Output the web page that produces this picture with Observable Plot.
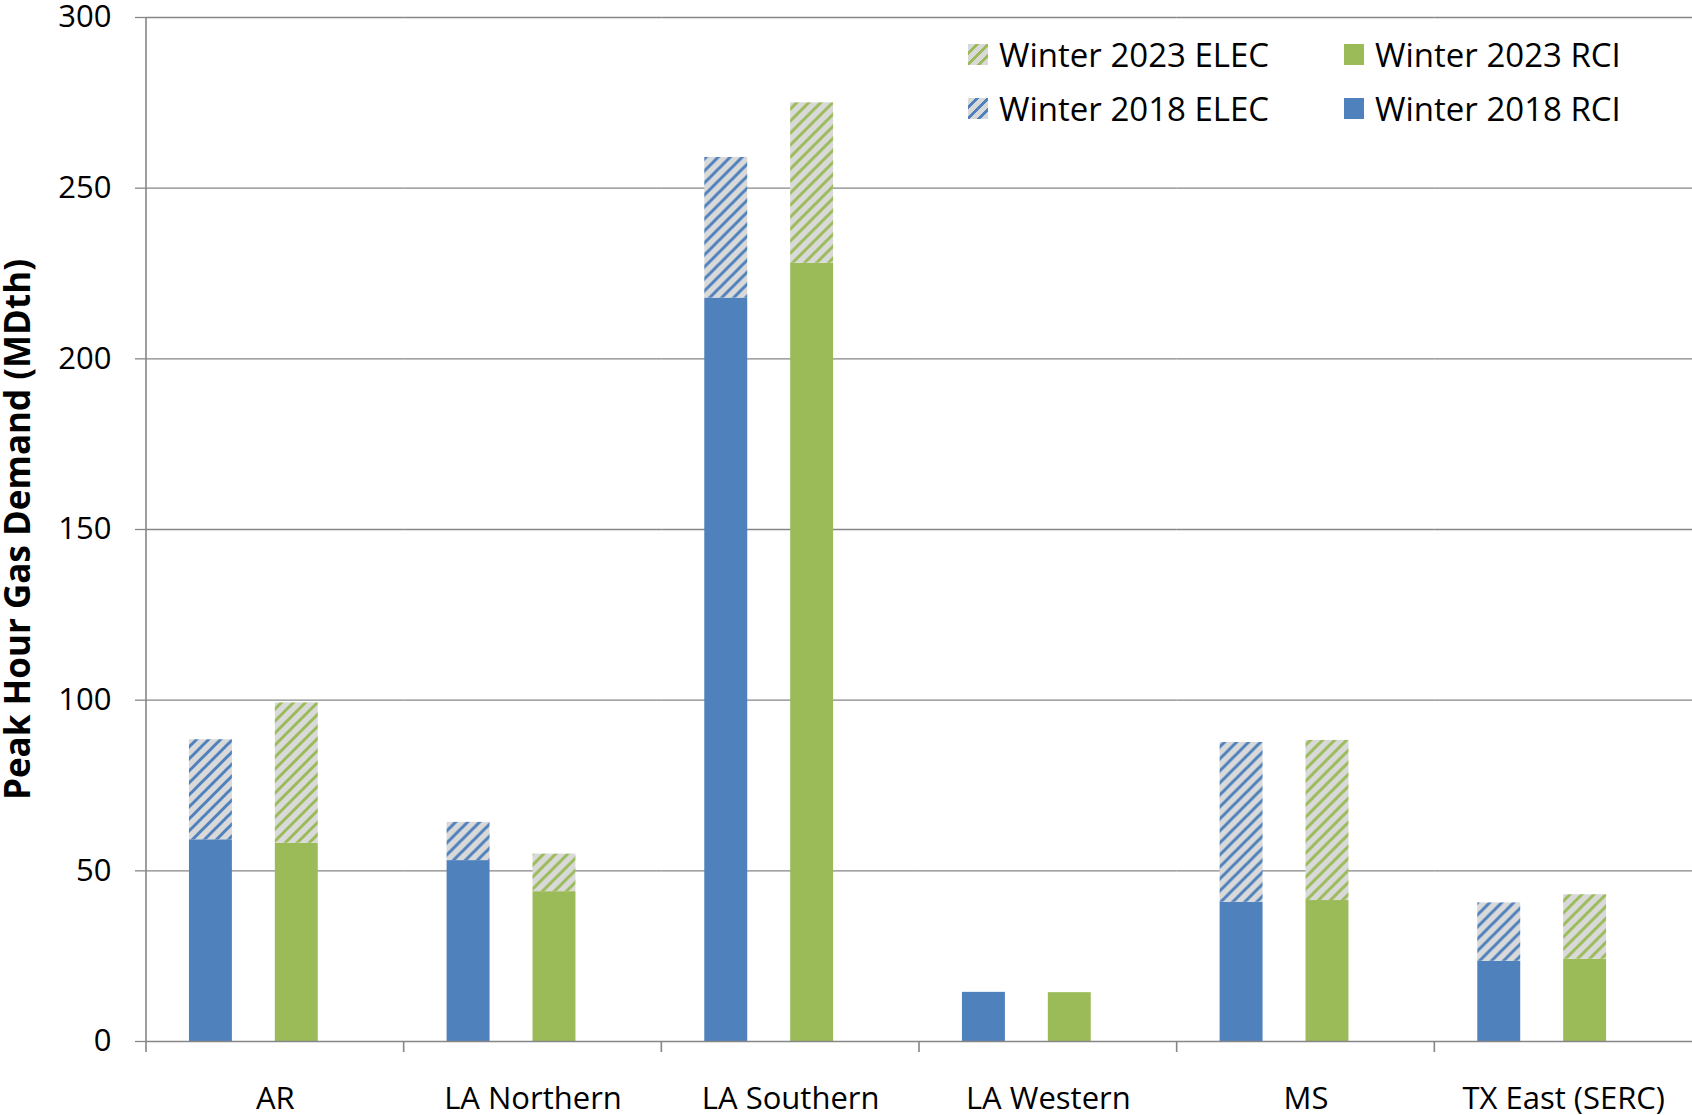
<!DOCTYPE html>
<html><head><meta charset="utf-8">
<script src="https://cdn.jsdelivr.net/npm/d3@7"></script>
<script src="https://cdn.jsdelivr.net/npm/@observablehq/plot@0.6"></script>
<style>
body{margin:0;background:#fff;}
#wrap{position:relative;width:1692px;height:1115px;overflow:hidden;font-family:"Open Sans";background:#fff;}
.leg{position:absolute;display:flex;align-items:center;font-size:33px;color:#000;white-space:nowrap;line-height:1;height:30px;}
.sw{width:20px;height:21px;margin-right:11px;flex:none;}
g[aria-label="y-axis label"] text{font-weight:bold;font-size:35px;}
</style></head><body><div id="wrap"></div>
<script>
const categories = ["AR","LA Northern","LA Southern","LA Western","MS","TX East (SERC)"];
const years = ["2018","2023"];
const rci2018  = [59.1, 53.0, 217.8, 14.4, 40.8, 23.5];
const elec2018 = [29.3, 11.2, 41.2, 0, 46.8, 17.1];
const rci2023  = [58.1, 43.9, 228.0, 14.3, 41.3, 24.1];
const elec2023 = [41.1, 11.0, 47.0, 0, 46.9, 18.9];
const seriesNames = ["Winter 2018 RCI","Winter 2018 ELEC","Winter 2023 RCI","Winter 2023 ELEC"];
const seriesColors = ["#4F81BD","url(#hatch2018)","#9BBB59","url(#hatch2023)"];
const yTicks = [0,50,100,150,200,250,300];
const yLabel = "Peak Hour Gas Demand (MDth)";

const rows = [];
categories.forEach((c,i)=>{
  rows.push({cat:c, year:years[0], series:seriesNames[0], value:rci2018[i]});
  rows.push({cat:c, year:years[0], series:seriesNames[1], value:elec2018[i]});
  rows.push({cat:c, year:years[1], series:seriesNames[2], value:rci2023[i]});
  rows.push({cat:c, year:years[1], series:seriesNames[3], value:elec2023[i]});
});

const plot = Plot.plot({
  width:1692, height:1115, marginLeft:146, marginRight:0, marginTop:17, marginBottom:74,
  style:{fontFamily:"Open Sans", fontSize:"31px", color:"#000", background:"transparent", overflow:"visible"},
  fx:{domain:categories, padding:0, round:false, label:null},
  x:{domain:years, paddingInner:0.5, paddingOuter:0.75, align:1/3, round:false, axis:null},
  y:{domain:[0,300], label:null},
  color:{domain:seriesNames, range:seriesColors},
  marks:[
    Plot.ruleY(yTicks.slice(1), {stroke:"#868686", strokeWidth:1.3}),
    Plot.barY(rows, {fx:"cat", x:"year", y:"value", fill:"series"}),
    Plot.ruleY([0], {stroke:"#868686", strokeWidth:1.6}),
    Plot.axisY({ticks:yTicks, tickSize:11, tickPadding:24, stroke:"#868686", strokeWidth:1.3,
      label:yLabel, labelAnchor:"center", labelOffset:141, labelArrow:"none"}),
    Plot.axisFx({anchor:"bottom", tickSize:0, tickPadding:45, label:null})
  ]
});

const svg = d3.select(plot);
svg.insert("defs", ":first-child").html(`
  <pattern id="hatch2018" patternUnits="userSpaceOnUse" width="12" height="12">
    <rect width="12" height="12" fill="#D9D9D9"/>
    <path d="M-3,3 L3,-3 M0,12 L12,0 M9,15 L15,9" stroke="#4F81BD" stroke-width="3"/>
  </pattern>
  <pattern id="hatch2023" patternUnits="userSpaceOnUse" width="12" height="12">
    <rect width="12" height="12" fill="#D9D9D9"/>
    <path d="M-3,3 L3,-3 M0,12 L12,0 M9,15 L15,9" stroke="#9BBB59" stroke-width="3"/>
  </pattern>`);

// axis line and category boundary ticks from the plot's own scales
const fxs = plot.scale("fx"), ys = plot.scale("y");
const fxScale = d3.scaleBand(fxs.domain, fxs.range).padding(0);
const yScale = d3.scaleLinear(ys.domain, ys.range);
const y0 = yScale(0);
const g = svg.append("g").attr("stroke", "#868686").attr("stroke-width", 1.6);
g.append("line").attr("x1", fxScale.range()[0]).attr("x2", fxScale.range()[0])
  .attr("y1", yScale(300)).attr("y2", y0 + 11);
categories.slice(1).forEach(c => {
  g.append("line").attr("x1", fxScale(c)).attr("x2", fxScale(c)).attr("y1", y0).attr("y2", y0 + 11);
});

const wrap = document.getElementById("wrap");
wrap.appendChild(plot);

// legend
const legendItems = [
  {name:"Winter 2023 ELEC", bg:"repeating-linear-gradient(135deg,#D9D9D9 0 5px,#9BBB59 5px 8px)", left:968, top:39},
  {name:"Winter 2023 RCI", bg:"#9BBB59", left:1344, top:39},
  {name:"Winter 2018 ELEC", bg:"repeating-linear-gradient(135deg,#D9D9D9 0 5px,#4F81BD 5px 8px)", left:968, top:93},
  {name:"Winter 2018 RCI", bg:"#4F81BD", left:1344, top:93}
];
legendItems.forEach(d => {
  const div = document.createElement("div");
  div.className = "leg";
  div.style.left = d.left + "px";
  div.style.top = d.top + "px";
  const sw = document.createElement("span");
  sw.className = "sw";
  sw.style.background = d.bg;
  const t = document.createElement("span");
  t.textContent = d.name;
  div.appendChild(sw); div.appendChild(t);
  wrap.appendChild(div);
});
</script></body></html>
